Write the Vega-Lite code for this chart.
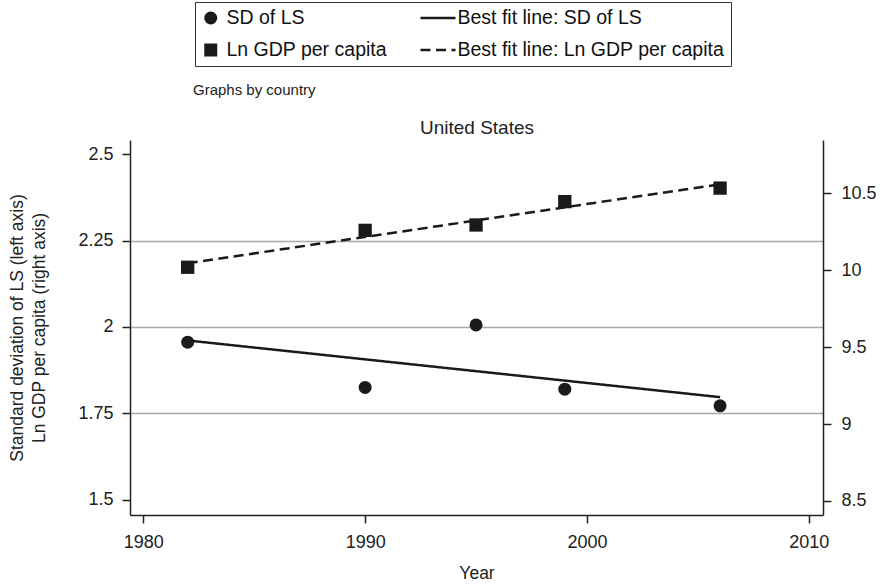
{
  "$schema": "https://vega.github.io/schema/vega-lite/v6.json",
  "width": 882,
  "height": 586,
  "autosize": {"type": "fit", "contains": "padding"},
  "padding": {"top": 83, "left": 8, "right": 5, "bottom": 4},
  "background": "white",
  "config": {
    "font": "Liberation Sans",
    "view": {"stroke": null},
    "axis": {
      "domainColor": "#222222",
      "domainWidth": 1.5,
      "tickColor": "#222222",
      "tickWidth": 1.5,
      "tickSize": 8,
      "labelFontSize": 18,
      "labelColor": "#222222",
      "titleFontSize": 17.5,
      "titleFontWeight": "normal",
      "titleColor": "#222222"
    }
  },
  "title": {
    "text": "Graphs by country",
    "anchor": "start",
    "frame": "group",
    "dx": 63,
    "offset": 20,
    "fontSize": 15,
    "fontWeight": "normal",
    "color": "#222222"
  },
  "datasets": {
    "sd": [
      {"year": 1982, "value": 1.956, "series": "SD of LS"},
      {"year": 1990, "value": 1.825, "series": "SD of LS"},
      {"year": 1995, "value": 2.006, "series": "SD of LS"},
      {"year": 1999, "value": 1.82, "series": "SD of LS"},
      {"year": 2006, "value": 1.772, "series": "SD of LS"}
    ],
    "sdfit": [
      {"year": 1982, "value": 1.961, "series": "Best fit line: SD of LS"},
      {"year": 2006, "value": 1.797, "series": "Best fit line: SD of LS"}
    ],
    "gdp": [
      {"year": 1982, "value": 10.02, "series": "Ln GDP per capita"},
      {"year": 1990, "value": 10.26, "series": "Ln GDP per capita"},
      {"year": 1995, "value": 10.295, "series": "Ln GDP per capita"},
      {"year": 1999, "value": 10.447, "series": "Ln GDP per capita"},
      {"year": 2006, "value": 10.535, "series": "Ln GDP per capita"}
    ],
    "gdpfit": [
      {"year": 1982, "value": 10.046, "series": "Best fit line: Ln GDP per capita"},
      {"year": 2006, "value": 10.56, "series": "Best fit line: Ln GDP per capita"}
    ]
  },
  "layer": [
    {
      "encoding": {
        "x": {
          "field": "year",
          "type": "quantitative",
          "scale": {"domain": [1979.4, 2010.64], "nice": false, "zero": false},
          "axis": {
            "orient": "bottom",
            "values": [1980, 1990, 2000, 2010],
            "format": "d",
            "title": "Year",
            "grid": false,
            "labelPadding": 10,
            "titlePadding": 13
          }
        },
        "y": {
          "field": "value",
          "type": "quantitative",
          "scale": {"domain": [1.456, 2.541], "nice": false, "zero": false},
          "axis": {
            "orient": "left",
            "values": [1.5, 1.75, 2, 2.25, 2.5],
            "format": ".3~g",
            "title": ["Standard deviation of LS (left axis)", "Ln GDP per capita (right axis)"],
            "titleLineHeight": 22,
            "titlePadding": 29,
            "labelPadding": 9,
            "grid": true,
            "gridColor": "#a9a9a9",
            "gridWidth": 1.5,
            "gridOpacity": {"condition": {"test": "datum.value < 1.6 || datum.value > 2.4", "value": 0}, "value": 1}
          }
        }
      },
      "layer": [
        {
          "data": {"name": "sdfit"},
          "mark": {"type": "line", "color": "#1a1a1a", "strokeWidth": 2.5},
          "encoding": {
            "strokeDash": {
              "field": "series",
              "type": "nominal",
              "scale": {
                "domain": ["Best fit line: SD of LS", "Best fit line: Ln GDP per capita"],
                "range": [[1, 0], [10, 5.5]]
              },
              "legend": {
                "orient": "none",
                "legendX": 289,
                "legendY": -132,
                "title": null,
                "padding": 0,
                "clipHeight": 20,
                "rowPadding": 12,
                "symbolType": "stroke",
                "symbolSize": 1225,
                "symbolStrokeWidth": 2.5,
                "symbolStrokeColor": "#1a1a1a",
                "symbolOpacity": 1,
                "labelFontSize": 10,
                "labelExpr": "''"
              }
            }
          }
        },
        {
          "data": {"name": "sd"},
          "mark": {"type": "point", "filled": true, "color": "#1a1a1a", "opacity": 1, "size": 169},
          "encoding": {
            "shape": {
              "field": "series",
              "type": "nominal",
              "scale": {
                "domain": ["SD of LS", "Ln GDP per capita", "Best fit line: SD of LS", "Best fit line: Ln GDP per capita"],
                "range": ["circle", "square", "stroke", "stroke"]
              },
              "legend": {
                "orient": "none",
                "legendX": 65,
                "legendY": -138,
                "title": null,
                "columns": 2,
                "columnPadding": 45,
                "rowPadding": 12,
                "padding": 6,
                "clipHeight": 20,
                "labelOffset": 6,
                "strokeColor": "#333333",
                "labelFontSize": 19.5,
                "labelColor": "#111111",
                "labelLimit": 500,
                "symbolSize": 169,
                "symbolOpacity": 1
              }
            }
          }
        }
      ]
    },
    {
      "encoding": {
        "x": {
          "field": "year",
          "type": "quantitative",
          "scale": {"domain": [1979.4, 2010.64], "nice": false, "zero": false},
          "axis": {
            "orient": "top",
            "title": "United States",
            "titleFontSize": 19,
            "titlePadding": 3,
            "labels": false,
            "ticks": false,
            "domain": false,
            "grid": false
          }
        },
        "y": {
          "field": "value",
          "type": "quantitative",
          "scale": {"domain": [8.408, 10.848], "nice": false, "zero": false},
          "axis": {
            "orient": "right",
            "values": [8.5, 9, 9.5, 10, 10.5],
            "format": ".3~g",
            "title": null,
            "labelPadding": 10,
            "grid": false
          }
        }
      },
      "layer": [
        {
          "data": {"name": "gdpfit"},
          "mark": {"type": "line", "color": "#1a1a1a", "strokeWidth": 2.5},
          "encoding": {
            "strokeDash": {
              "field": "series",
              "type": "nominal",
              "scale": {
                "domain": ["Best fit line: SD of LS", "Best fit line: Ln GDP per capita"],
                "range": [[1, 0], [10, 5.5]]
              }
            }
          }
        },
        {
          "data": {"name": "gdp"},
          "mark": {"type": "square", "color": "#1a1a1a", "opacity": 1, "size": 177},
          "encoding": {}
        }
      ]
    }
  ],
  "resolve": {"scale": {"y": "independent"}, "axis": {"x": "independent"}}
}
